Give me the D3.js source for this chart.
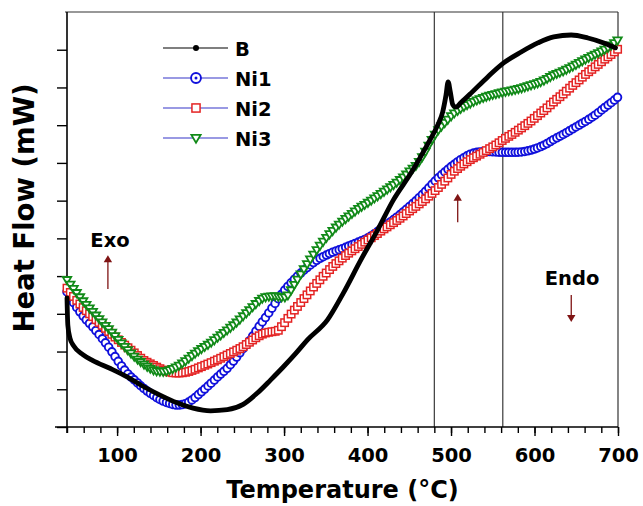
<!DOCTYPE html>
<html><head><meta charset="utf-8">
<script src="https://cdn.jsdelivr.net/npm/d3@7"></script>
<style>html,body{margin:0;padding:0;background:#fff;}svg{display:block;font-family:"DejaVu Sans",Verdana,sans-serif;}</style>
</head><body>
<svg id="chart" width="643" height="506"></svg>
<script>
// ---- data (temperature °C, heat flow in axis units) ----
const seriesNames = ["B", "Ni1", "Ni2", "Ni3"];
const tB   = [40,41,43.5,48,59,71,92,112,131,152,172,191,212,232,251,268,284,299,314,328,352,371,392,412,431,452,472,484,490,494,496.5,499,502,506,512,524,544,563,584,604,623,644,664,683,697];
const vB   = [3.42,2.70,2.36,2.15,1.92,1.76,1.55,1.33,1.08,0.84,0.64,0.50,0.43,0.46,0.60,0.90,1.25,1.59,1.95,2.31,2.84,3.55,4.43,5.22,6.02,6.73,7.50,8.00,8.35,8.80,9.15,8.90,8.55,8.48,8.60,8.85,9.28,9.65,9.94,10.18,10.34,10.39,10.31,10.18,10.05];
const tNi1 = [40,50,60,71,82,92,102,112,122,131,142,152,162,172,182,191,201,212,222,232,242,251,260,268,280,290,299,310,320,330,340,350,359,370,380,390,400,410,419,430,440,450,460,470,480,492,503,514,524,534,544,554,563,574,584,594,604,614,623,634,644,654,664,674,683,692,700];
const vNi1 = [3.58,3.22,2.92,2.65,2.35,2.05,1.72,1.43,1.22,1.04,0.86,0.72,0.63,0.58,0.62,0.74,0.93,1.15,1.36,1.56,1.82,2.08,2.33,2.60,2.97,3.30,3.58,3.86,4.08,4.27,4.43,4.55,4.64,4.73,4.82,4.91,5.01,5.15,5.30,5.48,5.65,5.84,6.04,6.26,6.50,6.75,6.95,7.12,7.24,7.29,7.30,7.29,7.28,7.28,7.29,7.33,7.40,7.50,7.62,7.75,7.88,8.01,8.14,8.29,8.45,8.60,8.75];
const tNi2 = [40,50,60,71,82,92,102,112,122,131,142,152,162,172,182,191,201,212,222,232,242,251,260,268,276,284,292,299,308,320,330,340,350,359,370,380,390,400,410,419,430,440,450,464,474,484,494,503,514,524,534,544,554,563,574,584,594,604,614,623,634,644,654,664,674,683,692,700];
const vNi2 = [3.68,3.40,3.15,2.92,2.70,2.49,2.30,2.12,1.94,1.78,1.65,1.54,1.46,1.43,1.45,1.51,1.60,1.70,1.80,1.91,2.02,2.13,2.27,2.39,2.48,2.52,2.55,2.72,2.98,3.30,3.57,3.83,4.07,4.27,4.48,4.65,4.80,4.95,5.10,5.24,5.40,5.55,5.72,5.95,6.13,6.33,6.55,6.76,6.95,7.10,7.22,7.35,7.48,7.62,7.77,7.92,8.08,8.26,8.44,8.62,8.82,9.02,9.21,9.40,9.57,9.73,9.88,10.02];
const tNi3 = [40,50,60,71,82,92,102,112,122,131,140,148,156,164,172,182,191,201,212,222,232,242,251,260,268,275,282,290,297,302,307,313,320,330,340,350,359,370,380,390,400,410,419,430,440,450,460,468,476,484,494,503,514,524,534,544,554,563,574,584,594,604,614,623,634,644,654,664,674,683,692,700];
const vNi3 = [3.90,3.60,3.32,3.05,2.78,2.55,2.30,2.06,1.84,1.68,1.55,1.48,1.47,1.52,1.60,1.75,1.91,2.07,2.23,2.40,2.57,2.75,2.94,3.13,3.30,3.42,3.46,3.47,3.44,3.44,3.58,3.80,4.05,4.40,4.72,5.00,5.22,5.45,5.63,5.80,5.94,6.09,6.23,6.40,6.57,6.77,6.98,7.25,7.58,7.85,8.10,8.30,8.47,8.59,8.69,8.77,8.83,8.88,8.93,8.98,9.05,9.12,9.22,9.33,9.43,9.54,9.66,9.78,9.89,9.99,10.12,10.26];
const xTickLabels = [100,200,300,400,500,600,700];
const xMinorTicks = d3.range(40, 701, 20);
const yTicks = d3.range(0, 11, 1);
const refLinesT = [480, 562];
const annoText = [{t:"Exo", T:91.5, v:4.77}, {t:"Endo", T:645, v:3.76}];
const annoArrows = [{T:89, v0:3.66, v1:4.55}, {T:508, v0:5.43, v1:6.18}, {T:644, v0:3.50, v1:2.78}];

// ---- layout ----
const svg = d3.select("#chart");
const M = {l:67, r:618, t:12, b:427};
const x = d3.scaleLinear().domain([40,700]).range([M.l, M.r]);
const y = d3.scaleLinear().domain([0,11]).range([M.b, M.t]);
const colors = {B:"#000000", Ni1:"#1010dc", Ni2:"#e42424", Ni3:"#118a18"};
const arrowCol = "#7f1414";

svg.append("rect").attr("width",643).attr("height",506).attr("fill","#fff");

// reference vertical lines & frame
svg.selectAll("line.ref").data(refLinesT).join("line").attr("class","ref")
  .attr("x1",d=>x(d)).attr("x2",d=>x(d)).attr("y1",y(11)).attr("y2",y(0))
  .attr("stroke","#3a3a3a").attr("stroke-width",1.2);
svg.append("line").attr("x1",M.l-2).attr("x2",M.r).attr("y1",M.t).attr("y2",M.t).attr("stroke","#333").attr("stroke-width",1.2);
svg.append("line").attr("x1",M.r).attr("x2",M.r).attr("y1",M.t).attr("y2",M.b).attr("stroke","#333").attr("stroke-width",1.2);

// axes
const gxMinor = svg.append("g").attr("transform",`translate(0,${M.b})`)
  .call(d3.axisBottom(x).tickValues(xMinorTicks).tickSize(6).tickFormat(""));
const gxMajor = svg.append("g").attr("transform",`translate(0,${M.b})`)
  .call(d3.axisBottom(x).tickValues(xTickLabels).tickSize(9).tickPadding(12).tickFormat(d3.format("d")));
const gy = svg.append("g").attr("transform",`translate(${M.l},0)`)
  .call(d3.axisLeft(y).tickValues(yTicks).tickSize(10).tickFormat(""));
[gxMinor,gxMajor,gy].forEach(g=>{
  g.select(".domain").remove();
  g.selectAll(".tick line").attr("stroke","#000").attr("stroke-width",1.4);
});
gxMajor.selectAll(".tick text").attr("font-size",19.5).attr("font-weight","bold").attr("fill","#000")
  .attr("font-family","'DejaVu Sans',sans-serif");
svg.append("line").attr("x1",M.l-12).attr("x2",M.r).attr("y1",M.b).attr("y2",M.b).attr("stroke","#000").attr("stroke-width",1.6);
svg.append("line").attr("x1",M.l).attr("x2",M.l).attr("y1",M.t).attr("y2",M.b+6).attr("stroke","#000").attr("stroke-width",1.6);

// series
const line = d3.line().x(d=>x(d[0])).y(d=>y(d[1])).curve(d3.curveMonotoneX);
const zip = (a,b)=>a.map((t,i)=>[t,b[i]]);
const dataNi = [
  {name:"Ni1", pts:zip(tNi1,vNi1), shape:"circle"},
  {name:"Ni2", pts:zip(tNi2,vNi2), shape:"square"},
  {name:"Ni3", pts:zip(tNi3,vNi3), shape:"tri"}
];
const step = 3.2;
function drawMarker(g, shape, col, px, py, s) {
  if (shape==="circle") {
    g.append("circle").attr("cx",px).attr("cy",py).attr("r",3.8*s)
      .attr("fill","#fff").attr("stroke",col).attr("stroke-width",1.9);
  } else if (shape==="square") {
    const h = 3.7*s;
    g.append("rect").attr("x",px-h).attr("y",py-h).attr("width",2*h).attr("height",2*h)
      .attr("fill","#fff").attr("stroke",col).attr("stroke-width",1.5);
  } else {
    const w = 4.2*s, hh = 3.6*s;
    g.append("path").attr("d",`M${px-w},${py-hh*0.8}L${px+w},${py-hh*0.8}L${px},${py+hh*1.2}Z`)
      .attr("fill","#fff").attr("stroke",col).attr("stroke-width",1.8).attr("stroke-linejoin","miter");
  }
}
dataNi.forEach(s=>{
  const p = svg.append("path").attr("d",line(s.pts)).attr("fill","none").attr("stroke","none");
  const node = p.node(), L = node.getTotalLength();
  const g = svg.append("g");
  let nextX = x(40);
  for (let l=0; l<=L; l+=0.3) {
    const q = node.getPointAtLength(l);
    if (q.x >= nextX - 0.01) { drawMarker(g, s.shape, colors[s.name], q.x, q.y, 1); nextX += step; }
  }
});
svg.append("path").attr("d",line(zip(tB,vB))).attr("fill","none").attr("stroke","#000")
  .attr("stroke-width",4.8).attr("stroke-linejoin","round").attr("stroke-linecap","round");

// legend
const legY = [48,78,108,138];
const lg = svg.append("g");
seriesNames.forEach((n,i)=>{
  const yy = legY[i];
  lg.append("line").attr("x1",163).attr("x2",228).attr("y1",yy).attr("y2",yy)
    .attr("stroke", n==="B" ? "#000" : "#3535c8").attr("stroke-width",1.2);
  if (n==="B") lg.append("circle").attr("cx",196).attr("cy",yy).attr("r",3).attr("fill","#000");
  else if (n==="Ni1") {
    drawMarker(lg,"circle",colors.Ni1,196,yy,1.3);
    lg.append("circle").attr("cx",196).attr("cy",yy).attr("r",1.5).attr("fill",colors.Ni1);
  }
  else if (n==="Ni2") drawMarker(lg,"square",colors.Ni2,196,yy,1.1);
  else drawMarker(lg,"tri",colors.Ni3,196,yy,1.1);
  lg.append("text").attr("x",235).attr("y",yy+8).text(n)
    .attr("font-size",19.5).attr("font-weight","bold").attr("fill","#000");
});

// annotations
annoText.forEach(a=>{
  svg.append("text").attr("x",x(a.T)).attr("y",y(a.v)).attr("text-anchor","middle")
    .attr("font-size",19.5).attr("font-weight","bold").attr("fill","#000").text(a.t);
});
annoArrows.forEach(a=>{
  const X = x(a.T), y0 = y(a.v0), y1 = y(a.v1), dir = y1<y0 ? -1 : 1;
  svg.append("line").attr("x1",X).attr("x2",X).attr("y1",y0).attr("y2",y1-dir*6)
    .attr("stroke",arrowCol).attr("stroke-width",1.3);
  svg.append("path").attr("d",`M${X},${y1}L${X-4.2},${y1-dir*7}L${X+4.2},${y1-dir*7}Z`).attr("fill",arrowCol);
});

// axis titles
svg.append("text").attr("x",(M.l+M.r)/2).attr("y",498).attr("text-anchor","middle")
  .attr("font-size",24).attr("font-weight","bold").attr("fill","#000").text("Temperature (°C)");
svg.append("text").attr("transform","translate(34,208) rotate(-90)").attr("text-anchor","middle")
  .attr("font-size",27.5).attr("font-weight","bold").attr("fill","#000").text("Heat Flow (mW)");
</script>
</body></html>
